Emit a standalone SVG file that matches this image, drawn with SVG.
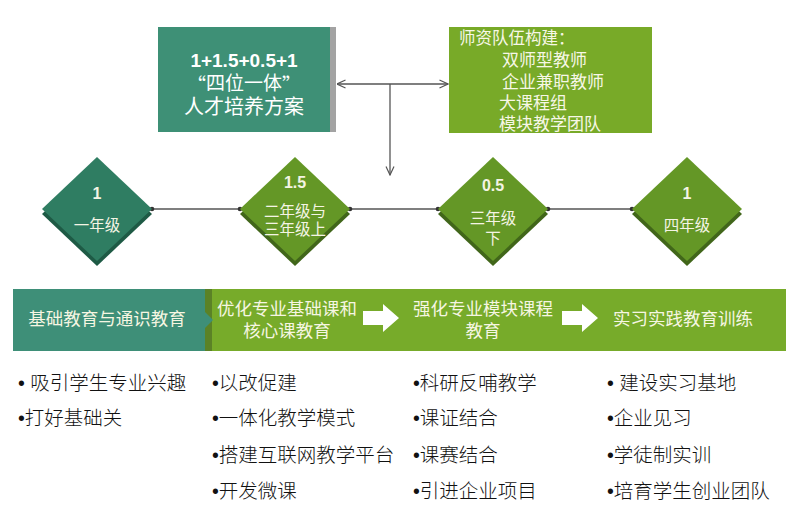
<svg xmlns="http://www.w3.org/2000/svg" width="799" height="529" viewBox="0 0 799 529">
<defs>
<marker id="open" viewBox="0 0 10 10" refX="9.5" refY="5" markerWidth="10" markerHeight="10" markerUnits="userSpaceOnUse" orient="auto-start-reverse">
<path d="M1,1 L9.5,5 L1,9" fill="none" stroke="#555" stroke-width="1.2"/>
</marker>
<style>
.cjk{font-family:"Liberation Sans","Noto Sans CJK SC",sans-serif;}
.q{font-family:"Noto Sans CJK SC",sans-serif;}
.num{font-family:"Liberation Sans",Arial,sans-serif;font-weight:bold;}
.b{font-family:"Liberation Sans",Arial,sans-serif;font-weight:normal;}
.wt{fill:#ffffff;}
.cr{fill:#f7f7e6;}
.dt{fill:#f4f4e4;font-size:15.5px;}
.dn{fill:#f4f4e4;font-size:16px;}
.band{fill:#f6f6e2;font-size:17.5px;}
.bul{fill:#111;font-size:19.5px;font-weight:300;}
.conn{stroke:#555;stroke-width:1.3;fill:none;}
.dot{fill:#333;}
.gd{fill:#649726;}
.gdx{fill:#41661a;}
</style>
</defs>
<rect width="799" height="529" fill="#ffffff"/>

<g id="plan">
<rect x="330" y="27" width="6" height="105" fill="#a3a3a3"/>
<rect x="158" y="27" width="172" height="105" fill="#3e9076"/>
<text class="num wt" x="244" y="60" font-size="19" text-anchor="middle" dominant-baseline="central">1+1.5+0.5+1</text>
<text class="cjk wt" x="244" y="83" font-size="19" text-anchor="middle" dominant-baseline="central"><tspan class="q">“</tspan>四位一体<tspan class="q">”</tspan></text>
<text class="cjk wt" x="244" y="107" font-size="20" text-anchor="middle" dominant-baseline="central">人才培养方案</text>
</g>

<g id="teachers">
<rect x="449" y="27" width="203" height="106" fill="#78aa28"/>
<text class="cjk cr" x="459" y="38" font-size="16.5" dominant-baseline="central">师资队伍构建：</text>
<text class="cjk cr" x="502" y="60" font-size="17" dominant-baseline="central">双师型教师</text>
<text class="cjk cr" x="502" y="82" font-size="17" dominant-baseline="central">企业兼职教师</text>
<text class="cjk cr" x="499" y="103" font-size="17" dominant-baseline="central">大课程组</text>
<text class="cjk cr" x="499" y="124" font-size="17" dominant-baseline="central">模块教学团队</text>
</g>

<g id="connectors">
<line class="conn" x1="337" y1="84" x2="448" y2="84" marker-start="url(#open)" marker-end="url(#open)"/>
<line class="conn" x1="390" y1="84" x2="390" y2="175" marker-end="url(#open)"/>
<line class="conn" x1="152" y1="209" x2="240" y2="209"/>
<line class="conn" x1="350" y1="209" x2="438" y2="209"/>
<line class="conn" x1="548" y1="209" x2="632" y2="209"/>
<circle class="dot" cx="152" cy="209" r="2.3"/>
<circle class="dot" cx="240" cy="209" r="2.3"/>
<circle class="dot" cx="350" cy="209" r="2.3"/>
<circle class="dot" cx="438" cy="209" r="2.3"/>
<circle class="dot" cx="548" cy="209" r="2.3"/>
<circle class="dot" cx="632" cy="209" r="2.3"/>
</g>

<g id="year1">
<polygon points="97,162 152,214 97,266 42,214" fill="#1e5a45"/>
<polygon points="97,157 152,209 97,261 42,209" fill="#2f7d62"/>
<text class="num dn" x="97" y="193" text-anchor="middle" dominant-baseline="central">1</text>
<text class="cjk dt" x="97" y="225" font-size="17" text-anchor="middle" dominant-baseline="central">一年级</text>
</g>

<g id="year2">
<polygon class="gdx" points="295,162 350,214 295,266 240,214"/>
<polygon class="gd" points="295,157 350,209 295,261 240,209"/>
<text class="num dn" x="295" y="182" text-anchor="middle" dominant-baseline="central">1.5</text>
<text class="cjk dt" x="295" y="211" text-anchor="middle" dominant-baseline="central">二年级与</text>
<text class="cjk dt" x="295" y="229" text-anchor="middle" dominant-baseline="central">三年级上</text>
</g>

<g id="year3">
<polygon class="gdx" points="493,162 548,214 493,266 438,214"/>
<polygon class="gd" points="493,157 548,209 493,261 438,209"/>
<text class="num dn" x="493" y="185" text-anchor="middle" dominant-baseline="central">0.5</text>
<text class="cjk dt" x="493" y="218" font-size="17" text-anchor="middle" dominant-baseline="central">三年级</text>
<text class="cjk dt" x="493" y="238" font-size="17" text-anchor="middle" dominant-baseline="central">下</text>
</g>

<g id="year4">
<polygon class="gdx" points="687,162 742,214 687,266 632,214"/>
<polygon class="gd" points="687,157 742,209 687,261 632,209"/>
<text class="num dn" x="687" y="193" text-anchor="middle" dominant-baseline="central">1</text>
<text class="cjk dt" x="687" y="225" font-size="17" text-anchor="middle" dominant-baseline="central">四年级</text>
</g>

<g id="stages">
<rect x="205" y="289" width="581" height="62" fill="#77ab2a"/>
<rect x="205" y="289" width="7" height="62" fill="#5b8226"/>
<polygon points="13,289 205,289 205,312 213,320 205,328 205,351 13,351" fill="#3e8f78"/>
<text class="cjk band" x="107" y="319" text-anchor="middle" dominant-baseline="central">基础教育与通识教育</text>
<text class="cjk band" x="287" y="309" text-anchor="middle" dominant-baseline="central">优化专业基础课和</text>
<text class="cjk band" x="287" y="331" text-anchor="middle" dominant-baseline="central">核心课教育</text>
<polygon points="363,311 383,311 383,304 399,318 383,332 383,325 363,325" fill="#ffffff"/>
<text class="cjk band" x="483" y="309" text-anchor="middle" dominant-baseline="central">强化专业模块课程</text>
<text class="cjk band" x="483" y="331" text-anchor="middle" dominant-baseline="central">教育</text>
<polygon points="562,311 582,311 582,304 598,318 582,332 582,325 562,325" fill="#ffffff"/>
<text class="cjk band" x="683" y="319" text-anchor="middle" dominant-baseline="central">实习实践教育训练</text>
</g>

<g id="list1">
<text class="cjk bul" x="18" y="383" dominant-baseline="central"><tspan class="b">• </tspan>吸引学生专业兴趣</text>
<text class="cjk bul" x="18" y="418" dominant-baseline="central"><tspan class="b">•</tspan>打好基础关</text>
</g>
<g id="list2">
<text class="cjk bul" x="212" y="383" dominant-baseline="central"><tspan class="b">•</tspan>以改促建</text>
<text class="cjk bul" x="212" y="418" dominant-baseline="central"><tspan class="b">•</tspan>一体化教学模式</text>
<text class="cjk bul" x="212" y="455" dominant-baseline="central"><tspan class="b">•</tspan>搭建互联网教学平台</text>
<text class="cjk bul" x="212" y="491" dominant-baseline="central"><tspan class="b">•</tspan>开发微课</text>
</g>
<g id="list3">
<text class="cjk bul" x="413" y="383" dominant-baseline="central"><tspan class="b">•</tspan>科研反哺教学</text>
<text class="cjk bul" x="413" y="418" dominant-baseline="central"><tspan class="b">•</tspan>课证结合</text>
<text class="cjk bul" x="413" y="455" dominant-baseline="central"><tspan class="b">•</tspan>课赛结合</text>
<text class="cjk bul" x="413" y="491" dominant-baseline="central"><tspan class="b">•</tspan>引进企业项目</text>
</g>
<g id="list4">
<text class="cjk bul" x="607" y="383" dominant-baseline="central"><tspan class="b">• </tspan>建设实习基地</text>
<text class="cjk bul" x="607" y="418" dominant-baseline="central"><tspan class="b">•</tspan>企业见习</text>
<text class="cjk bul" x="607" y="455" dominant-baseline="central"><tspan class="b">•</tspan>学徒制实训</text>
<text class="cjk bul" x="607" y="491" dominant-baseline="central"><tspan class="b">•</tspan>培育学生创业团队</text>
</g>
</svg>
